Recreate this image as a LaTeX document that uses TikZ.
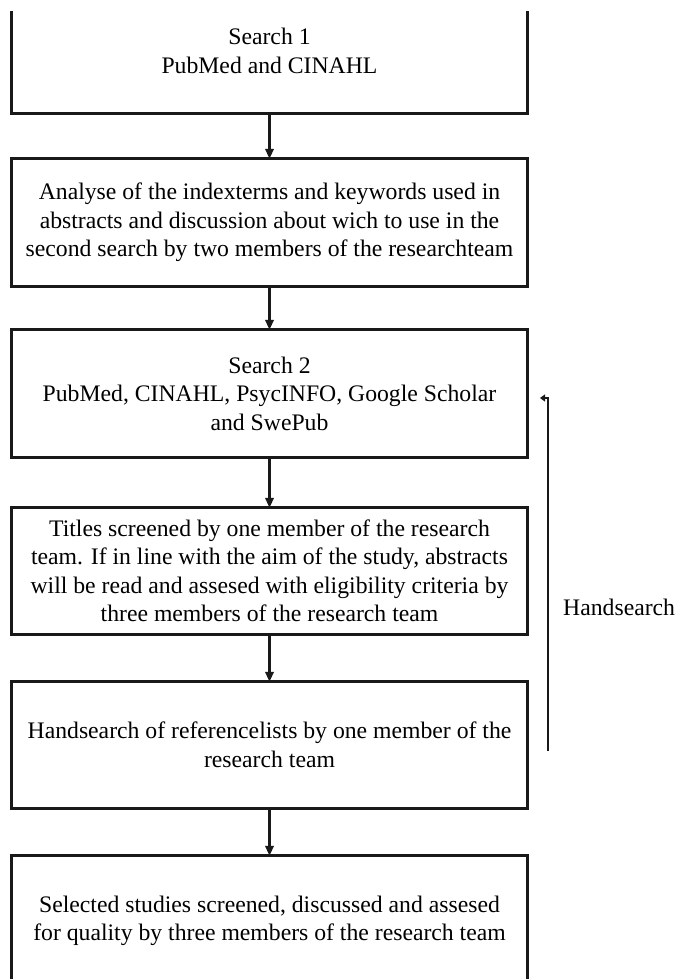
\documentclass[tikz,border=0pt]{standalone}
\usepackage{fontspec}
\setmainfont{Liberation Serif}
\usetikzlibrary{arrows.meta}
\begin{document}
\begin{tikzpicture}[x=1pt,y=-1pt,
  txt/.style={align=center,inner sep=0pt,font=\fontsize{23.7}{28.5}\selectfont},
  boxshape/.style={txt,minimum width=515pt},
  frame/.style={line width=2.9pt,draw=black!90},
  flow/.style={line width=2.1pt,draw=black!90,-{Triangle[length=10pt,width=8.5pt]}},
  hook/.style={line width=2.9pt,draw=black!90,-{Triangle[length=5pt,width=7pt]}}]
\useasboundingbox (0,0) rectangle (675,979);
\clip (0,0) rectangle (675,979);
% box 1 (open at the top)
\node[boxshape,minimum height=102pt] (b1) at (269.5,62) {};
\node[txt] (t1) at (269.5,51) {Search 1\\PubMed and CINAHL};
\node[boxshape,minimum height=127pt] (b2) at (269.5,222.5)
  {Analyse of the indexterms and keywords used in\\abstracts and discussion about wich to use in the\\second search by two members of the researchteam};
\node[boxshape,minimum height=127pt] (b3) at (269.5,393.5)
  {Search 2\\PubMed, CINAHL, PsycINFO, Google Scholar\\and SwePub};
\node[boxshape,minimum height=126pt] (b4) at (269.5,571)
  {Titles screened by one member of the research\\team. If in line with the aim of the study, abstracts\\will be read and assesed with eligibility criteria by\\three members of the research team};
\node[boxshape,minimum height=126pt] (b5) at (269.5,745)
  {Handsearch of referencelists by one member of the\\research team};
\node[boxshape,minimum height=130pt] (b6) at (269.5,921)
  {Selected studies screened, discussed and assesed\\for quality by three members of the research team};
\draw[frame] (b1.north west) -- (b1.south west) -- (b1.south east) -- (b1.north east);
\foreach \b in {b2,b3,b4,b5,b6}
  \draw[frame] (\b.north west) rectangle (\b.south east);
\draw[flow] (b1.south) -- (b2.north);
\draw[flow] (b2.south) -- (b3.north);
\draw[flow] (b3.south) -- (b4.north);
\draw[flow] (b4.south) -- (b5.north);
\draw[flow] (b5.south) -- (b6.north);
% handsearch loop
\coordinate (hb) at (548,751);
\coordinate (ht) at (548,398);
\coordinate (hh) at (540,398);
\draw[hook] (hb) -- (ht) -- (hh);
\node[txt,anchor=west] (hs) at (563,607) {Handsearch};
\end{tikzpicture}
\end{document}
